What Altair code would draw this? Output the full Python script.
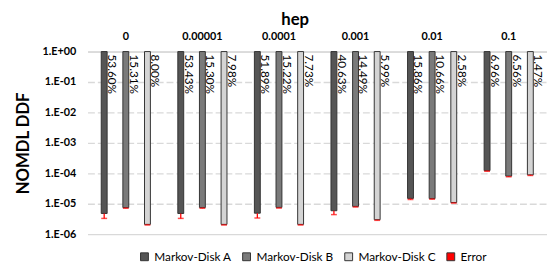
import altair as alt
import pandas as pd

groups = ["0", "0.00001", "0.0001", "0.001", "0.01", "0.1"]
series = ["Markov-Disk A", "Markov-Disk B", "Markov-Disk C"]

val_a = [4.8e-6, 4.8e-6, 4.9e-6, 5.9e-6, 1.5e-5, 1.23e-4]
val_b = [7.5e-6, 7.5e-6, 7.6e-6, 8.2e-6, 1.48e-5, 8.1e-5]
val_c = [2.1e-6, 2.1e-6, 2.1e-6, 3.0e-6, 1.1e-5, 8.9e-5]

low_a = [3.3e-6, 3.3e-6, 3.4e-6, 4.4e-6, 1.38e-5, 1.17e-4]
low_b = [7.1e-6, 7.1e-6, 7.2e-6, 7.8e-6, 1.41e-5, 7.7e-5]
low_c = [2.0e-6, 2.0e-6, 2.0e-6, 2.85e-6, 1.05e-5, 8.5e-5]

lab_a = ["53.60%", "53.43%", "51.89%", "40.63%", "15.86%", "6.96%"]
lab_b = ["15.31%", "15.30%", "15.22%", "14.49%", "10.66%", "6.56%"]
lab_c = ["8.00%", "7.98%", "7.73%", "5.99%", "2.58%", "1.47%"]

rows = []
for s, vals, lows, labs in [
    (series[0], val_a, low_a, lab_a),
    (series[1], val_b, low_b, lab_b),
    (series[2], val_c, low_c, lab_c),
]:
    for g, v, lo, lb in zip(groups, vals, lows, labs):
        rows.append({"group": g, "series": s, "value": v, "lower": lo, "top": 1.0, "label": lb})
df = pd.DataFrame(rows)

FONT = "Lato"

x_enc = alt.X(
    "group:N",
    sort=groups,
    scale=alt.Scale(paddingInner=0, paddingOuter=0),
    axis=alt.Axis(
        orient="top", title="hep", titleFont=FONT, titleFontSize=17, titleFontWeight="bold",
        titleColor="#000", titlePadding=3, titleX=211,
        labelAngle=0, ticks=False, domain=True,
        domainColor="#d9d9d9", domainWidth=1.5, labelFont=FONT, labelFontWeight="bold",
        labelFontSize=11, labelPadding=10, labelColor="#000",
    ),
)
xoff_enc = alt.XOffset(
    "series:N", sort=series,
    scale=alt.Scale(domain=series, paddingInner=0.68, paddingOuter=0.61),
)

y_scale = alt.Scale(type="log", domain=[1e-6, 1])

base = alt.Chart(df).encode(x=x_enc, xOffset=xoff_enc)

bars = base.mark_bar(stroke="#333333", strokeWidth=1, width=6).encode(
    y=alt.Y(
        "value:Q",
        scale=y_scale,
        axis=alt.Axis(
            title="NOMDL DDF",
            titleFont=FONT, titleFontSize=17, titleFontWeight="bold", titleColor="#000",
            titlePadding=10,
            values=[1, 0.1, 0.01, 0.001, 0.0001, 0.00001, 0.000001],
            labelExpr="datum.value >= 1 ? '1.E+00' : '1.E-0' + round(-log(datum.value) / LN10)",
            labelFont=FONT, labelFontSize=11, labelFontWeight="bold", labelColor="#000",
            ticks=False, domain=False, labelPadding=12,
            grid=True, gridColor="#d9d9d9", gridWidth=1.3,
            gridDash={"condition": {"test": "datum.value >= 1 || datum.value < 2e-6", "value": [1, 0]},
                      "value": [7, 3]},
        ),
    ),
    y2="top:Q",
    fill=alt.Fill(
        "series:N",
        scale=alt.Scale(domain=series + ["Error"], range=["#555555", "#7a7a7a", "#d4d4d4", "#ff0000"]),
        legend=alt.Legend(
            title=None, orient="none", legendX=52, legendY=203, direction="horizontal", columns=4,
            labelFont=FONT, labelFontSize=12, labelColor="#000",
            symbolType="square", symbolSize=64, symbolStrokeColor="#333333", symbolStrokeWidth=1,
            columnPadding=9, labelOffset=4,
        ),
    ),
)

err = base.mark_rule(color="#ff0000", strokeWidth=1.3).encode(
    y=alt.Y("value:Q", scale=y_scale), y2="lower:Q"
)
cap = base.mark_tick(color="#ff0000", thickness=1.5, size=6, orient="horizontal").encode(
    y=alt.Y("lower:Q", scale=y_scale)
)

text = base.mark_text(
    angle=90, align="left", baseline="alphabetic", dx=3, dy=-4,
    font=FONT, fontSize=12, color="#000",
).encode(y=alt.Y("top:Q", scale=y_scale), text="label:N")

chart = (
    alt.layer(bars, err, cap, text)
    .properties(
        width=468, height=186,
        padding={"left": 6, "top": 0, "right": 0, "bottom": 0},
        background="white",
    )
    .configure_view(stroke=None)
)

chart.save("out.html", embed_options={"renderer": "svg", "actions": False})
